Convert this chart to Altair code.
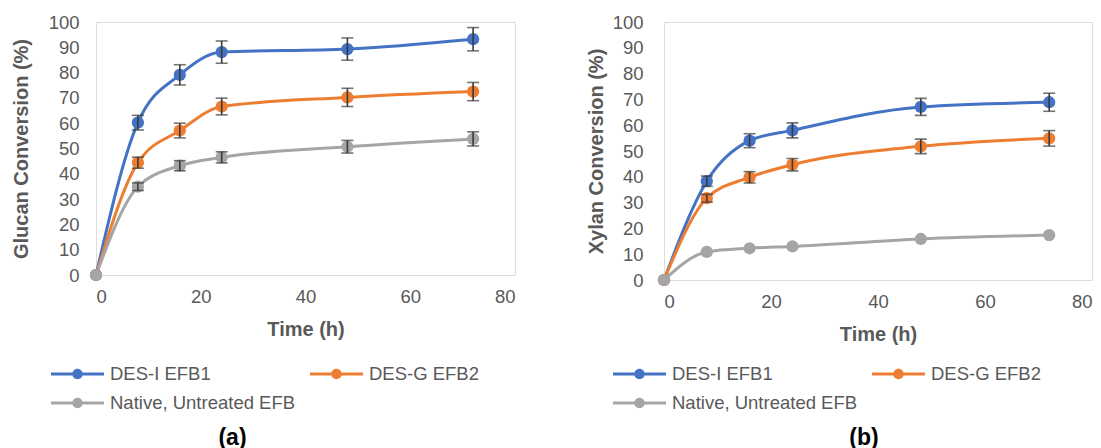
import altair as alt
import pandas as pd

times = [0, 8, 16, 24, 48, 72]
series = ["DES-I EFB1", "DES-G EFB2", "Native, Untreated EFB"]
colors = ["#4472C4", "#ED7D31", "#A5A5A5"]

# (a) Glucan conversion (%)
glucan_des_i = [0, 60.2, 79.1, 88.1, 89.3, 93.2]
glucan_des_i_err = [None, 2.9, 4.0, 4.4, 4.4, 4.6]
glucan_des_g = [0, 44.4, 57.1, 66.6, 70.2, 72.5]
glucan_des_g_err = [None, 2.2, 2.9, 3.3, 3.6, 3.6]
glucan_native = [0, 34.9, 43.2, 46.5, 50.7, 53.8]
glucan_native_err = [None, 1.5, 2.0, 2.2, 2.5, 2.8]

# (b) Xylan conversion (%)
xylan_des_i = [0, 38.3, 54.0, 58.0, 67.1, 68.9]
xylan_des_i_err = [None, 2.0, 2.7, 2.9, 3.3, 3.5]
xylan_des_g = [0, 31.7, 39.8, 44.7, 51.8, 54.9]
xylan_des_g_err = [None, 1.5, 2.2, 2.4, 2.8, 3.0]
xylan_native = [0, 10.9, 12.3, 13.0, 15.9, 17.4]
xylan_native_err = [None, None, None, None, None, None]

x_ticks = [0, 20, 40, 60, 80]
y_ticks = [0, 10, 20, 30, 40, 50, 60, 70, 80, 90, 100]

FONT = "Liberation Sans"
TXT = "#595959"

LEG_PATH = ("M-1,-0.057L-0.15,-0.057L-0.15,0.057L-1,0.057Z "
            "M0.15,-0.057L1,-0.057L1,0.057L0.15,0.057Z "
            "M0.196,0A0.196,0.196,0,1,1,-0.196,0A0.196,0.196,0,1,1,0.196,0Z")


def frame(vals_list, errs_list):
    rows = []
    for name, vals, errs in zip(series, vals_list, errs_list):
        for t, v, e in zip(times, vals, errs):
            rows.append({
                "t": t, "v": v, "series": name,
                "lo": (v - e) if e is not None else None,
                "hi": (v + e) if e is not None else None,
            })
    return pd.DataFrame(rows)


def panel(df, ytitle, w, h, lab_pad, title_pad, leg_x, leg_y, caption, cap_dx):
    color_scale = alt.Scale(domain=series, range=colors)
    legend = alt.Legend(
        title=None, orient="none", legendX=leg_x, legendY=leg_y,
        direction="horizontal", columns=2, columnPadding=14, rowPadding=9,
        clipHeight=20, symbolType=LEG_PATH, symbolSize=2809,
        symbolStrokeWidth=0, symbolOpacity=1, labelOffset=6,
        labelFontSize=18.5, labelColor=TXT, labelFont=FONT,
        labelLimit=400)
    color = alt.Color("series:N", scale=color_scale, sort=series, legend=legend)
    xenc = alt.X("t:Q", scale=alt.Scale(domain=[0, 80], nice=False),
                 axis=alt.Axis(values=x_ticks, title="Time (h)", grid=False,
                               domain=False, ticks=False, labelPadding=12,
                               titlePadding=14, labelFontSize=18.5,
                               titleFontSize=20, labelColor=TXT, titleColor=TXT,
                               titleFontWeight="bold", labelFont=FONT, titleFont=FONT))
    yaxis = alt.Axis(values=y_ticks, title=ytitle, grid=False, domain=False,
                     ticks=False, labelPadding=lab_pad, titlePadding=title_pad,
                     labelFontSize=18.5, titleFontSize=20, labelColor=TXT,
                     titleColor=TXT, titleFontWeight="bold", labelFont=FONT,
                     titleFont=FONT)
    yscale = alt.Scale(domain=[0, 100], nice=False)
    base = alt.Chart(df)
    lines = base.mark_line(interpolate="monotone", strokeWidth=3).encode(
        x=xenc,
        y=alt.Y("v:Q", scale=yscale, axis=yaxis),
        color=color,
        detail="series:N",
    )
    pts = base.mark_point(filled=True, size=150, opacity=1).encode(
        x=xenc,
        y=alt.Y("v:Q", scale=yscale, axis=yaxis),
        color=color,
    )
    errs = base.transform_filter("datum.lo != null").mark_errorbar(
        ticks=True, size=12, thickness=1.6, color="#3A3A3A").encode(
        x=xenc,
        y=alt.Y("lo:Q", scale=yscale, axis=yaxis),
        y2="hi:Q",
    )
    return alt.layer(lines, pts, errs).properties(
        width=w, height=h,
        title=alt.TitleParams(caption, orient="bottom", anchor="middle",
                              frame="group", dx=cap_dx, offset=14, fontSize=23,
                              fontWeight="bold", color="#000000", font=FONT),
    )


left = panel(frame([glucan_des_i, glucan_des_g, glucan_native],
                   [glucan_des_i_err, glucan_des_g_err, glucan_native_err]),
             "Glucan Conversion (%)", 419, 253, 17, 17, -45, 342, "(a)", -73)
right = panel(frame([xylan_des_i, xylan_des_g, xylan_native],
                    [xylan_des_i_err, xylan_des_g_err, xylan_native_err]),
              "Xylan Conversion (%)", 428, 258, 21, 6, -51, 342, "(b)", -14)

chart = alt.hconcat(left, right, spacing=69).resolve_legend(
    color="independent").configure_view(
    stroke="#D9D9D9", strokeWidth=1.5).configure(
    font=FONT, background="white", padding={"left": 10, "top": 12, "right": 0, "bottom": 5})

chart.save("out.html", embed_options={"renderer": "svg", "actions": False})
